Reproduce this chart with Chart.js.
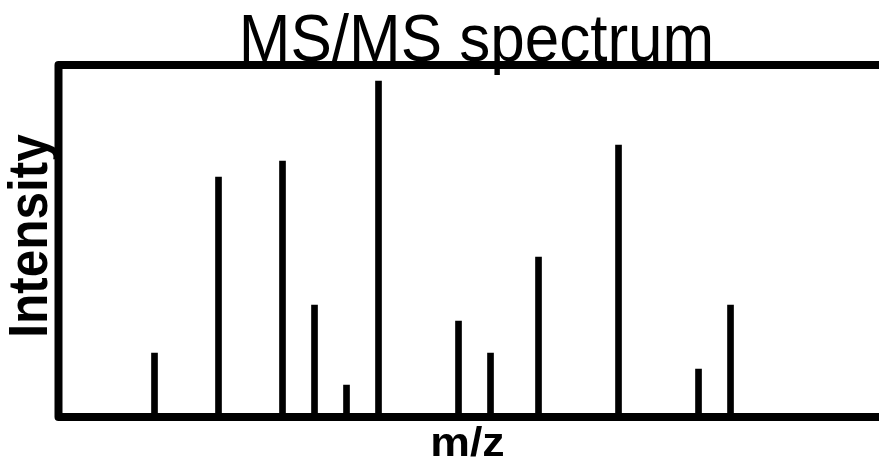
<!DOCTYPE html>
<html>
<head>
<meta charset="utf-8">
<script src="https://cdn.jsdelivr.net/npm/chart.js@4/dist/chart.umd.min.js"></script>
<style>
  html, body { margin: 0; padding: 0; background: #fff; overflow: hidden; }
  #c { display: block; }
</style>
</head>
<body>
<canvas id="c" width="879" height="465"></canvas>
<script>
// Peak positions (m/z, arbitrary units) and their intensities
const mzPositions = [6, 10, 14, 16, 18, 20, 25, 27, 30, 35, 40, 42];
const intensities = [4, 15, 16, 7, 2, 21, 6, 4, 10, 17, 3, 7];

// Text
const chartTitle = 'MS/MS spectrum';
const xAxisTitle = 'm/z';
const yAxisTitle = 'Intensity';

// Axis ranges
const xRange = [0, 51.28];
const yRange = [0, 22];

// Open frame: top, left and bottom rules running off the right edge
const framePlugin = {
  id: 'spectrumFrame',
  afterDatasetsDraw(chart) {
    const { ctx, scales: { x, y } } = chart;
    const l = x.getPixelForValue(xRange[0]);
    const r = chart.width + 10;
    const t = y.getPixelForValue(yRange[1]);
    const b = y.getPixelForValue(yRange[0]);
    ctx.save();
    ctx.strokeStyle = '#000';
    ctx.lineWidth = 8;
    ctx.lineJoin = 'round';
    ctx.beginPath();
    ctx.moveTo(r, t);
    ctx.lineTo(l, t);
    ctx.lineTo(l, b);
    ctx.lineTo(r, b);
    ctx.stroke();
    ctx.restore();
  }
};

// Draws a text line centred on cx, fitted to a given ink width
function fittedText(ctx, text, font, cx, baseline, inkWidth, angle) {
  ctx.save();
  ctx.font = font;
  ctx.fillStyle = '#000';
  ctx.textAlign = 'center';
  ctx.textBaseline = 'alphabetic';
  const m = ctx.measureText(text);
  const w = m.actualBoundingBoxLeft + m.actualBoundingBoxRight;
  ctx.translate(cx, baseline);
  if (angle) ctx.rotate(angle);
  ctx.scale(inkWidth / w, 1);
  ctx.fillText(text, 0, 0);
  ctx.restore();
}

const labelPlugin = {
  id: 'spectrumLabels',
  afterDraw(chart) {
    const { ctx, chartArea: a } = chart;
    fittedText(ctx, chartTitle, '66px "Liberation Sans", Arial, sans-serif',
      a.left + 418, a.top - 4, 467, 0);
    fittedText(ctx, xAxisTitle, 'bold 40px "Liberation Sans", Arial, sans-serif',
      a.left + 409, a.bottom + 39, 71, 0);
    // rotated: the baseline runs vertically
    ctx.save();
    ctx.translate(a.left - 12, a.top + 171);
    fittedText(ctx, yAxisTitle, 'bold 55px "Liberation Sans", Arial, sans-serif',
      0, 0, 201, -Math.PI / 2);
    ctx.restore();
  }
};

new Chart(document.getElementById('c'), {
  type: 'bar',
  data: {
    datasets: [{
      data: mzPositions.map((m, i) => ({ x: m, y: intensities[i] })),
      backgroundColor: '#000',
      borderWidth: 0,
      barThickness: 6
    }]
  },
  options: {
    responsive: false,
    animation: false,
    devicePixelRatio: 1,
    layout: { padding: { left: 58.5, top: 65, right: 0, bottom: 48 } },
    scales: {
      x: { type: 'linear', min: xRange[0], max: xRange[1], offset: false, display: false },
      y: { min: yRange[0], max: yRange[1], display: false }
    },
    plugins: {
      legend: { display: false },
      tooltip: { enabled: false },
      title: { display: false }
    }
  },
  plugins: [framePlugin, labelPlugin]
});
</script>
</body>
</html>
